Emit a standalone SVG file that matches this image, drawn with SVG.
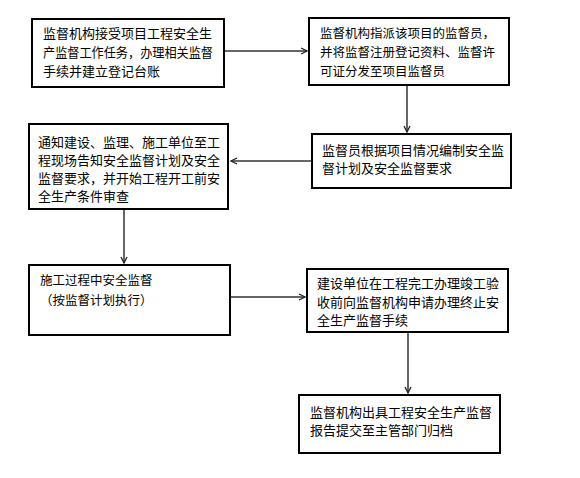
<svg xmlns="http://www.w3.org/2000/svg" width="580" height="478" viewBox="0 0 580 478">
<style>
.box{fill:#fff;stroke:#000;stroke-width:2}
text{font-family:"Noto Sans CJK SC","Noto Sans",sans-serif;font-size:13px;fill:#000}
.s{font-size:12.5px}
.c{fill:none;stroke:#333;stroke-width:1.5}
</style>
<defs>
<marker id="ah" markerWidth="8" markerHeight="8" refX="7" refY="4" orient="auto" markerUnits="userSpaceOnUse">
<path d="M1,1 L7,4 L1,7" fill="none" stroke="#222" stroke-width="1.3"/>
</marker>
</defs>
<g id="connectors">
<path class="c" d="M224,51 H307" marker-end="url(#ah)"/>
<path class="c" d="M407,85 V132" marker-end="url(#ah)"/>
<path class="c" d="M312,161 H231" marker-end="url(#ah)"/>
<path class="c" d="M124,209 V263" marker-end="url(#ah)"/>
<path class="c" d="M230,297 H305" marker-end="url(#ah)"/>
<path class="c" d="M408,332 V393" marker-end="url(#ah)"/>
</g>
<g id="n1">
<rect class="box" x="32" y="19" width="192" height="68"/>
<text x="43" y="38">监督机构接受项目工程安全生</text>
<text x="43" y="57" textLength="170" lengthAdjust="spacingAndGlyphs">产监督工作任务，办理相关监督</text>
<text x="43" y="76">手续并建立登记台账</text>
</g>
<g id="n2">
<rect class="box" x="309" y="18" width="200" height="67"/>
<text class="s" x="320" y="38">监督机构指派该项目的监督员，</text>
<text class="s" x="320" y="57">并将监督注册登记资料、监督许</text>
<text class="s" x="320" y="76">可证分发至项目监督员</text>
</g>
<g id="n3">
<rect class="box" x="312" y="134" width="199" height="54"/>
<text x="322" y="155">监督员根据项目情况编制安全监</text>
<text x="322" y="173">督计划及安全监督要求</text>
</g>
<g id="n4">
<rect class="box" x="29" y="124" width="199" height="85"/>
<text x="38" y="147">通知建设、监理、施工单位至工</text>
<text x="38" y="165">程现场告知安全监督计划及安全</text>
<text x="38" y="183">监督要求，并开始工程开工前安</text>
<text x="38" y="201">全生产条件审查</text>
</g>
<g id="n5">
<rect class="box" x="29" y="265" width="201" height="70"/>
<text class="s" x="40" y="285">施工过程中安全监督</text>
<text class="s" x="40" y="305">（按监督计划执行）</text>
</g>
<g id="n6">
<rect class="box" x="307" y="269" width="201" height="63"/>
<text x="317" y="288">建设单位在工程完工办理竣工验</text>
<text x="317" y="307">收前向监督机构申请办理终止安</text>
<text x="317" y="325">全生产监督手续</text>
</g>
<g id="n7">
<rect class="box" x="299" y="395" width="201" height="58"/>
<text x="310" y="417">监督机构出具工程安全生产监督</text>
<text x="310" y="435">报告提交至主管部门归档</text>
</g>
</svg>
